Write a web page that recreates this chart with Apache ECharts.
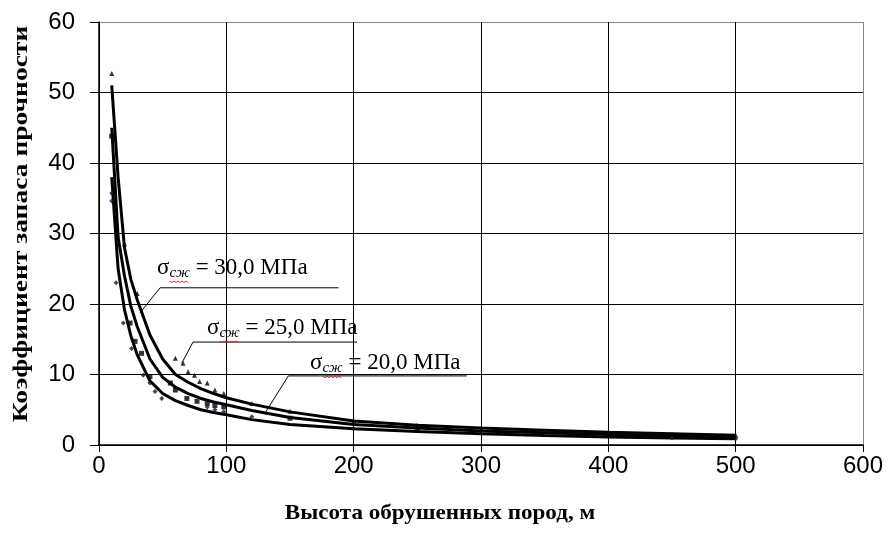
<!DOCTYPE html>
<html>
<head>
<meta charset="utf-8">
<script src="https://cdn.jsdelivr.net/npm/echarts@6/dist/echarts.min.js"></script>
<style>
  html, body { margin: 0; padding: 0; background: #fff; }
  #chart { width: 887px; height: 542px; }
</style>
</head>
<body>
<div id="chart"></div>
<script>
// высота обрушенных пород, м
var heights = [10, 15, 20, 25, 30, 40, 50, 60, 70, 80, 90, 100, 120, 150, 200, 250, 300, 350, 400, 450, 500];
// коэффициент запаса прочности для трёх значений σсж
var k30 = [51, 38, 28, 23.5, 20.6, 15.6, 12.2, 10, 8.9, 8.0, 7.3, 6.7, 5.8, 4.7, 3.4, 2.8, 2.4, 2.1, 1.8, 1.6, 1.4];
var k25 = [45, 29.5, 24, 19.7, 16.8, 12.2, 9.6, 8.2, 7.3, 6.6, 6.1, 5.7, 4.9, 3.9, 2.9, 2.4, 2.0, 1.75, 1.5, 1.3, 1.15];
var k20 = [38, 25, 19.2, 15.5, 12.8, 9.1, 7.3, 6.3, 5.6, 5.0, 4.6, 4.3, 3.6, 2.9, 2.3, 1.9, 1.6, 1.35, 1.15, 1.0, 0.9];

// точки (замеры)
var pts30 = [[10, 52.7], [20, 28.5], [30, 21.5], [60, 12.3], [66, 11.6], [70, 10.4], [75, 9.9], [79, 9.0], [85, 8.8],
  [91, 7.8], [98, 7.3], [120, 5.9], [150, 4.8], [200, 3.4], [250, 2.8], [300, 2.3], [450, 1.5], [500, 1.4]];
var pts25 = [[10, 43.8], [24.4, 17.3], [28.3, 14.7], [33.4, 13.0], [40, 9.7], [56, 8.8], [60, 7.8], [69, 6.6],
  [77, 6.2], [85, 5.9], [91, 5.6], [98, 5.4], [150, 3.8], [250, 2.3]];
var pts20 = [[10, 35.7], [10, 34.6], [13.4, 23], [19.1, 17.3], [25.6, 13.7], [34.8, 9.9], [40, 8.8], [44, 7.6],
  [49.3, 6.6], [85, 5.4], [91, 5.0], [98, 4.7], [120, 4.0], [200, 2.3], [450, 1.0], [500, 0.9]];

var xTicks = [0, 100, 200, 300, 400, 500, 600];
var yTicks = [0, 10, 20, 30, 40, 50, 60];

var xName = 'Высота обрушенных пород, м';
var yName = 'Коэффициент запаса прочности';

// подписи кривых: [значение, точка текста, начало полки, конец полки, конец выноски]
var notes = [
  ['30,0', [45.6, 25.1], [48, 22.3], [188, 22.3], [32.2, 18.75]],
  ['25,0', [84.8, 16.6], [73.8, 14.6], [202.7, 14.6], [65, 11.6]],
  ['20,0', [165.7, 11.6], [148.7, 9.8], [288.8, 9.8], [131, 4.7]]
];

function pairs(ys) {
  return heights.map(function (h, i) { return [h, ys[i]]; });
}

var chart = echarts.init(document.getElementById('chart'));

function lineSeries(name, ys) {
  return {
    name: name, type: 'line', data: pairs(ys), symbol: 'none', smooth: false,
    lineStyle: { color: '#000', width: 3 }, z: 3
  };
}
function dotSeries(name, pts, sym, color) {
  return {
    name: name, type: 'scatter', data: pts, symbol: sym, symbolSize: 5,
    itemStyle: { color: color }, z: 4
  };
}

// последняя линия сетки (рамка сверху и справа) серая
var gridColors = function (n) {
  var c = [];
  for (var i = 0; i < n; i++) c.push(i === n - 1 ? '#888' : '#000');
  return c;
};

var option = {
  animation: false,
  grid: { left: 99, right: 24, top: 22, bottom: 97 },
  xAxis: {
    type: 'value', min: 0, max: 600, interval: 100,
    axisLine: { show: true, lineStyle: { color: '#000', width: 1.5 } },
    axisTick: { show: true, length: 7, lineStyle: { color: '#000' } },
    axisLabel: { fontFamily: 'Liberation Sans', fontSize: 24, color: '#000', margin: 9 },
    splitLine: { show: true, lineStyle: { color: gridColors(xTicks.length), width: 1 } }
  },
  yAxis: {
    type: 'value', min: 0, max: 60, interval: 10,
    axisLine: { show: true, lineStyle: { color: '#000', width: 1.5 } },
    axisTick: { show: true, length: 9, lineStyle: { color: '#000' } },
    axisLabel: { fontFamily: 'Liberation Sans', fontSize: 24, color: '#000', margin: 24 },
    splitLine: { show: true, lineStyle: { color: gridColors(yTicks.length), width: 1 } }
  },
  series: [
    dotSeries('p30', pts30, 'triangle', '#000'),
    dotSeries('p25', pts25, 'rect', '#000'),
    dotSeries('p20', pts20, 'diamond', '#14143c'),
    lineSeries('σсж = 30,0 МПа', k30),
    lineSeries('σсж = 25,0 МПа', k25),
    lineSeries('σсж = 20,0 МПа', k20)
  ]
};
chart.setOption(option);

var g = [];
// названия осей
g.push({
  type: 'text', x: 440, y: 513, scaleX: 1.05,
  style: { text: xName, fontFamily: 'Liberation Serif', fontWeight: 'bold', fontSize: 22, fill: '#000', align: 'center', verticalAlign: 'middle' }
});
g.push({
  type: 'text', x: 21, y: 224, rotation: Math.PI / 2, scaleX: 1.25,
  style: { text: yName, fontFamily: 'Liberation Serif', fontWeight: 'bold', fontSize: 22, fill: '#000', align: 'center', verticalAlign: 'middle' }
});

// выноски с подписями, координаты переводятся из данных в пиксели
notes.forEach(function (n) {
  var t = chart.convertToPixel({ gridIndex: 0 }, n[1]);
  var a = chart.convertToPixel({ gridIndex: 0 }, n[2]);
  var b = chart.convertToPixel({ gridIndex: 0 }, n[3]);
  var e = chart.convertToPixel({ gridIndex: 0 }, n[4]);
  g.push({ type: 'line', shape: { x1: a[0], y1: a[1], x2: b[0], y2: b[1] }, style: { stroke: '#000', lineWidth: 1 }, z: 10 });
  g.push({ type: 'line', shape: { x1: a[0], y1: a[1], x2: e[0], y2: e[1] }, style: { stroke: '#000', lineWidth: 1 }, z: 10 });
  g.push({
    type: 'text', x: t[0], y: t[1], z: 11,
    style: {
      text: '{s|σ}{sub|сж}{n| = ' + n[0] + ' МПа}',
      verticalAlign: 'middle',
      rich: {
        s: { fontFamily: 'Liberation Serif', fontSize: 23, fill: '#000' },
        sub: { fontFamily: 'Liberation Serif', fontStyle: 'italic', fontSize: 15, fill: '#000', verticalAlign: 'bottom', padding: [10, 0, 0, 0] },
        n: { fontFamily: 'Liberation Serif', fontSize: 23, fill: '#000' }
      }
    }
  });
  // красное волнистое подчёркивание (проверка орфографии) под «сж»
  var zz = [];
  for (var i = 0; i <= 9; i++) zz.push([t[0] + 13 + i * 2, t[1] + 13 + (i % 2 ? 1.5 : 0)]);
  g.push({ type: 'polyline', shape: { points: zz }, style: { stroke: '#d22', lineWidth: 1, fill: null }, z: 11 });
});
chart.setOption({ graphic: g });
</script>
</body>
</html>
